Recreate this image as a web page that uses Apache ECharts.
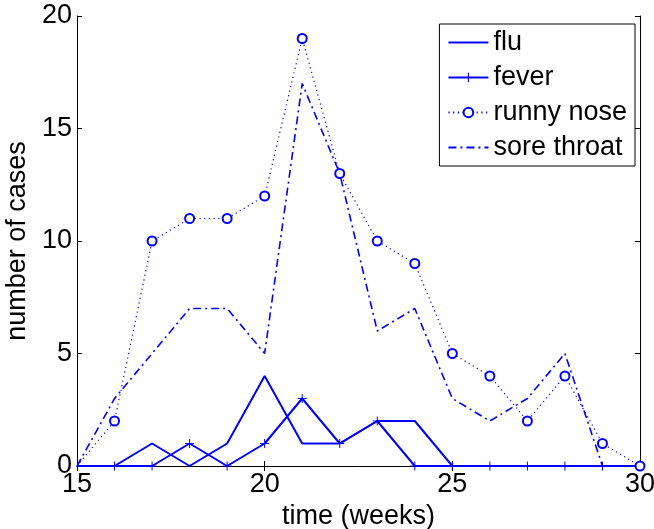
<!DOCTYPE html>
<html>
<head>
<meta charset="utf-8">
<script src="https://cdn.jsdelivr.net/npm/echarts@6/dist/echarts.min.js"></script>
<style>
  html, body { margin: 0; padding: 0; background: #fff; }
  #chart { width: 654px; height: 529px; }
</style>
</head>
<body>
<div id="chart"></div>
<script>
// weeks on the x axis
var weeks = [15, 16, 17, 18, 19, 20, 21, 22, 23, 24, 25, 26, 27, 28, 29, 30];
var flu = [0, 0, 1, 0, 1, 4, 1, 1, 2, 2, 0, 0, 0, 0, 0, 0];
var fever = [0, 0, 0, 1, 0, 1, 3, 1, 2, 0, 0, 0, 0, 0, 0, 0];
var runnyNose = [0, 2, 10, 11, 11, 12, 19, 13, 10, 9, 5, 4, 2, 4, 1, 0];
var soreThroat = [0, 3, 5, 7, 7, 5, 17, 13, 6, 7, 3, 2, 3, 5, 0, 0];
var xTicks = [15, 20, 25, 30];
var yTicks = [0, 5, 10, 15, 20];

var FONT = '"Liberation Sans", Arial, Helvetica, sans-serif';
var BLUE = '#0000ff';
var plus = 'path://M-0.11,-1 L0.11,-1 L0.11,-0.11 L1,-0.11 L1,0.11 L0.11,0.11 L0.11,1 L-0.11,1 L-0.11,0.11 L-1,0.11 L-1,-0.11 L-0.11,-0.11 Z';

// first week sits on the axis corner, no marker drawn there
function pairs(ys) {
    return weeks.map(function (w, i) {
        return i === 0 ? {value: [w, ys[i]], symbol: 'none'} : [w, ys[i]];
    });
}

var chart = echarts.init(document.getElementById('chart'));

var axisCommon = {
    axisLine: {show: true, lineStyle: {color: '#000', width: 1}},
    axisTick: {show: true, inside: true, length: 5, lineStyle: {color: '#000'}},
    splitLine: {show: false}
};
var noSymbol = {color: 'rgba(0,0,0,0)', borderWidth: 0};

chart.setOption({
    animation: false,
    backgroundColor: '#fff',
    textStyle: {fontFamily: FONT},
    grid: {left: 77, right: 14, top: 16, bottom: 63, outerBoundsMode: 'none', containLabel: false},
    legend: {
        orient: 'vertical',
        right: 19,
        top: 24,
        align: 'left',
        padding: [5, 8, 5, 8],
        itemGap: 8,
        itemWidth: 40,
        itemHeight: 12,
        borderColor: '#000',
        borderWidth: 1,
        borderRadius: 0,
        backgroundColor: '#fff',
        textStyle: {fontSize: 27, color: '#000', fontFamily: FONT},
        data: [
            {name: 'flu', itemStyle: noSymbol},
            {name: 'fever'},
            {name: 'runny nose'},
            {name: 'sore throat', itemStyle: noSymbol}
        ]
    },
    xAxis: [
        Object.assign({
            type: 'value', min: xTicks[0], max: xTicks[xTicks.length - 1], interval: 5,
            position: 'bottom',
            name: 'time (weeks)', nameLocation: 'middle', nameGap: 31,
            nameTextStyle: {fontSize: 27, color: '#000', fontFamily: FONT},
            axisLabel: {fontSize: 27, color: '#000', margin: 5, fontFamily: FONT}
        }, axisCommon),
        Object.assign({
            type: 'value', min: xTicks[0], max: xTicks[xTicks.length - 1], interval: 5,
            position: 'top',
            axisLabel: {show: false}
        }, axisCommon)
    ],
    yAxis: [
        Object.assign({
            type: 'value', min: yTicks[0], max: yTicks[yTicks.length - 1], interval: 5,
            position: 'left',
            name: 'number of cases', nameLocation: 'middle', nameGap: 44, nameRotate: 90,
            nameTextStyle: {fontSize: 27, color: '#000', fontFamily: FONT},
            axisLabel: {fontSize: 27, color: '#000', margin: 5, fontFamily: FONT}
        }, axisCommon),
        Object.assign({
            type: 'value', min: yTicks[0], max: yTicks[yTicks.length - 1], interval: 5,
            position: 'right',
            axisLabel: {show: false}
        }, axisCommon)
    ],
    series: [
        {
            name: 'flu',
            type: 'line',
            data: pairs(flu),
            symbol: 'none',
            lineStyle: {color: BLUE, width: 2, type: 'solid'},
            itemStyle: {color: BLUE}
        },
        {
            name: 'fever',
            type: 'line',
            data: pairs(fever),
            symbol: plus,
            symbolSize: 9,
            showAllSymbol: true,
            lineStyle: {color: BLUE, width: 2, type: 'solid'},
            itemStyle: {color: BLUE}
        },
        {
            name: 'runny nose',
            type: 'line',
            data: pairs(runnyNose),
            symbol: 'emptyCircle',
            symbolSize: 9,
            showAllSymbol: true,
            lineStyle: {color: BLUE, width: 1.2, type: [1.2, 3.5]},
            itemStyle: {color: BLUE, borderColor: BLUE, borderWidth: 1.8}
        },
        {
            name: 'sore throat',
            type: 'line',
            data: pairs(soreThroat),
            symbol: 'none',
            lineStyle: {color: BLUE, width: 1.6, type: [8, 4, 2, 4]},
            itemStyle: {color: BLUE}
        }
    ].map(function (s) {
        return Object.assign(s, {
            xAxisIndex: 0,
            yAxisIndex: 0,
            silent: true,
            emphasis: {disabled: true}
        });
    })
});
</script>
</body>
</html>
